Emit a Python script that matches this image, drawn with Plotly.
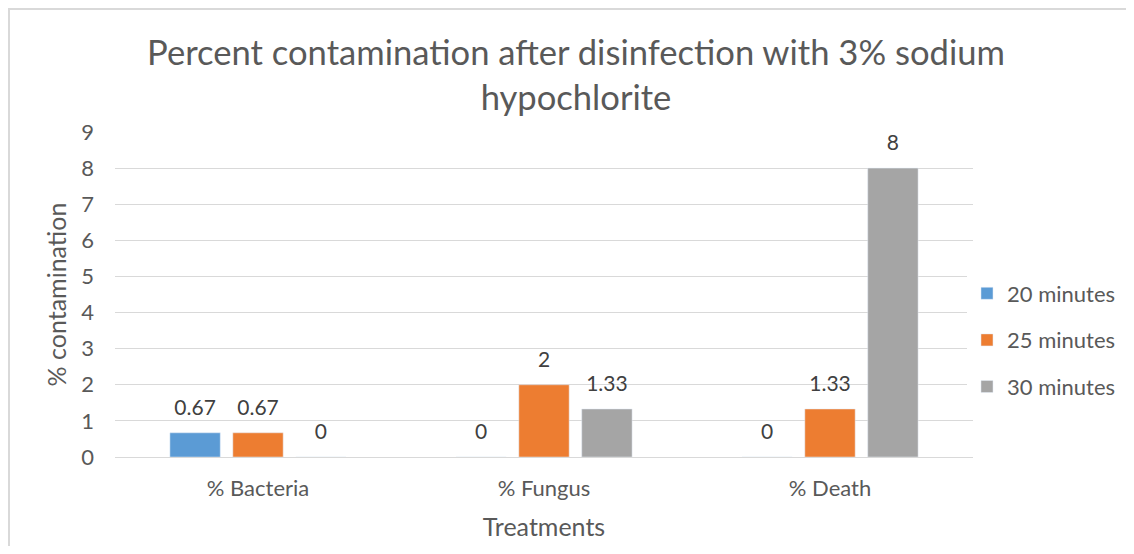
import plotly.graph_objects as go

categories = ["% Bacteria", "% Fungus", "% Death"]
series_names = ["20 minutes", "25 minutes", "30 minutes"]
values_20 = [0.67, 0, 0]
values_25 = [0.67, 2, 1.33]
values_30 = [0, 1.33, 8]
colors = ["#5B9BD5", "#ED7D31", "#A5A5A5"]

# the page adds an 8px body margin, so the figure itself starts at (8, 8)
W, H = 1126, 538
L, R, T, B = 107, 161, 124, 89
FONT = "Lato, Open Sans, sans-serif"
GREY_TEXT = "#595959"

fig = go.Figure()
series = list(zip(series_names, [values_20, values_25, values_30], colors))
for name, vals, col in series:
    fig.add_trace(
        go.Bar(
            x=categories,
            y=vals,
            name=name,
            legendgroup=name,
            marker_color=col,
            hoverinfo="x+y+name",
        )
    )
# data labels: invisible grouped markers so the text sits a little above each bar
for name, vals, col in series:
    fig.add_trace(
        go.Scatter(
            x=categories,
            y=vals,
            mode="markers+text",
            marker=dict(size=19, color="rgba(0,0,0,0)"),
            text=[f"{v:g}" for v in vals],
            textposition="top center",
            textfont=dict(size=21, color="#404040", family=FONT),
            showlegend=False,
            hoverinfo="skip",
            cliponaxis=False,
        )
    )

pw = W - L - R
ph = H - T - B
# chart border (only top and left edges fall inside the window)
fig.add_shape(
    type="rect",
    xref="paper",
    yref="paper",
    x0=-(L - 1) / pw,
    x1=1 + (R + 20) / pw,
    y0=-(B + 20) / ph,
    y1=1 + (T - 1) / ph,
    line=dict(color="#D9D9D9", width=2),
    layer="below",
)

fig.update_layout(
    width=W,
    height=H,
    margin=dict(l=L, r=R, t=T, b=B),
    plot_bgcolor="white",
    paper_bgcolor="white",
    barmode="group",
    bargap=0.34,
    bargroupgap=0.2,
    scattermode="group",
    scattergap=0.34,
    font=dict(family=FONT, color=GREY_TEXT, size=22),
    title=dict(
        text="Percent contamination after disinfection with 3% sodium<br>hypochlorite",
        x=568 / W,
        xanchor="center",
        xref="container",
        y=1 - 57 / H,
        yanchor="middle",
        yref="container",
        font=dict(size=34.6, color=GREY_TEXT, family=FONT),
    ),
    legend=dict(
        x=0.993,
        xanchor="left",
        y=0.36,
        yanchor="middle",
        font=dict(size=22, color=GREY_TEXT, family=FONT),
        itemwidth=30,
        tracegroupgap=15,
        traceorder="grouped",
    ),
    showlegend=True,
)
fig.update_xaxes(
    title=dict(text="Treatments", font=dict(size=25, color=GREY_TEXT), standoff=18),
    automargin=False,
    showgrid=False,
    showline=False,
    ticks="",
    ticklabelstandoff=16,
    tickfont=dict(size=22, color=GREY_TEXT),
)
fig.update_yaxes(
    title=dict(text="% contamination", font=dict(size=25, color=GREY_TEXT), standoff=7),
    automargin=False,
    range=[0, 9],
    dtick=1,
    showgrid=True,
    gridcolor="#D9D9D9",
    gridwidth=1.3,
    zeroline=True,
    zerolinecolor="#D9D9D9",
    zerolinewidth=1.3,
    showline=False,
    ticks="",
    ticklabelstandoff=20,
    tickfont=dict(size=22, color=GREY_TEXT),
)

fig.write_html("out.html")
